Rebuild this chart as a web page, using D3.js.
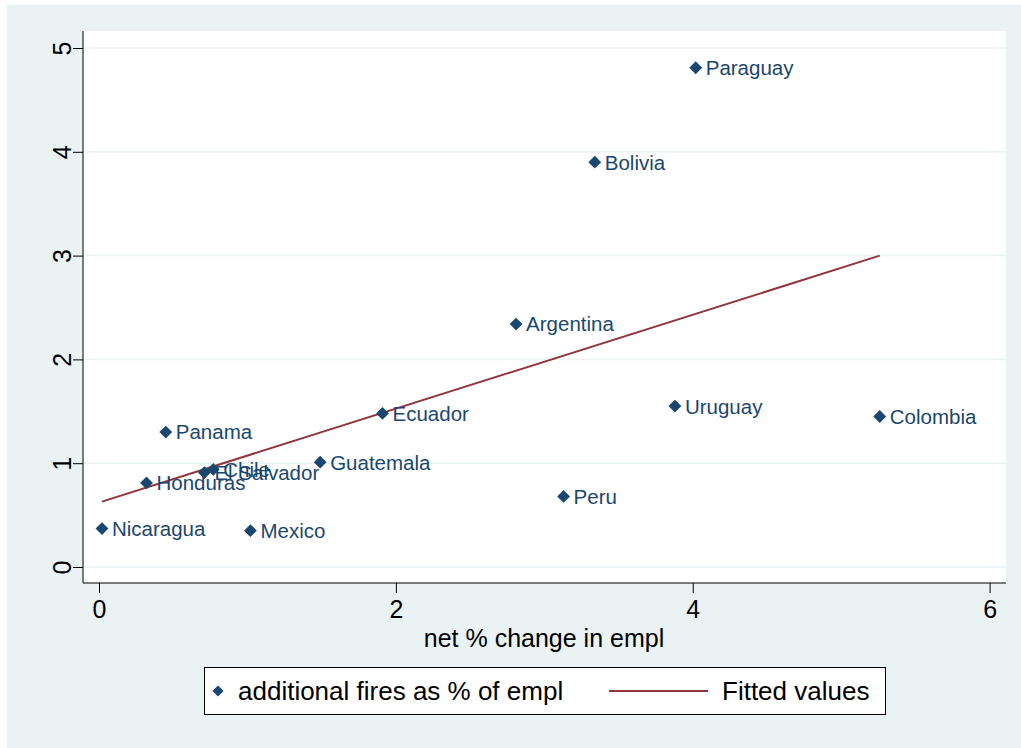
<!DOCTYPE html>
<html>
<head>
<meta charset="utf-8">
<script src="https://cdn.jsdelivr.net/npm/d3@7"></script>
<style>
  body { margin: 0; background: #fff; }
  text { font-family: "Liberation Sans", Arial, sans-serif; }
</style>
</head>
<body>
<svg width="1021" height="748"></svg>
<script>
// values
const countries = ["Paraguay", "Bolivia", "Argentina", "Ecuador", "Uruguay", "Colombia", "Panama",
  "Guatemala", "Chile", "El Salvador", "Honduras", "Nicaragua", "Mexico", "Peru"];
const emplChange = [4.02, 3.34, 2.81, 1.91, 3.88, 5.26, 0.45, 1.49, 0.77, 0.71, 0.32, 0.02, 1.02, 3.13];
const extraFires = [4.81, 3.90, 2.34, 1.48, 1.55, 1.45, 1.30, 1.01, 0.94, 0.91, 0.81, 0.37, 0.35, 0.68];
const fitX = [0.02, 5.26];
const fitY = [0.63, 3.0];
const xTicks = [0, 2, 4, 6];
const yTicks = [0, 1, 2, 3, 4, 5];

const svg = d3.select("svg"),
    navy = "#1a476f",
    maroon = "#90353b";

svg.append("rect").attr("x", 7).attr("y", 5).attr("width", 1014).attr("height", 743).attr("fill", "#eaf2f3");
svg.append("rect").attr("x", 83).attr("y", 31).attr("width", 923).attr("height", 552).attr("fill", "#fff");

const x = d3.scaleLinear().domain([0, 6]).range([99, 989.6]),
    y = d3.scaleLinear().domain([0, 5]).range([567, 48]);

// grid
svg.append("g").selectAll("line").data(yTicks).enter().append("line")
    .attr("x1", 83).attr("x2", 1006)
    .attr("y1", d => y(d)).attr("y2", d => y(d))
    .attr("stroke", "#eaf2f3").attr("stroke-width", 1.5);

var gx = svg.append("g")
    .attr("transform", "translate(0,583)")
    .call(d3.axisBottom(x).tickValues(xTicks).tickSize(10).tickPadding(7).tickFormat(d3.format("d")));
gx.select(".domain").remove();
gx.selectAll("text").attr("font-size", 25).attr("fill", "#000").attr("font-family", "Liberation Sans, Arial, sans-serif");

var gy = svg.append("g")
    .attr("transform", "translate(83,0)")
    .call(d3.axisLeft(y).tickValues(yTicks).tickSize(10).tickPadding(0).tickFormat(d3.format("d")));
gy.select(".domain").remove();
gy.selectAll("text")
    .attr("font-size", 25).attr("fill", "#000").attr("font-family", "Liberation Sans, Arial, sans-serif")
    .attr("text-anchor", "middle").attr("dy", "0.35em").attr("x", null)
    .attr("transform", "translate(-21,0) rotate(-90)");

// axis lines
svg.append("line").attr("x1", 83).attr("x2", 83).attr("y1", 31).attr("y2", 583).attr("stroke", "#000");
svg.append("line").attr("x1", 83).attr("x2", 1006).attr("y1", 583).attr("y2", 583).attr("stroke", "#000");

svg.append("text").attr("x", 544).attr("y", 647).attr("text-anchor", "middle")
    .attr("font-size", 25).text("net % change in empl");

// fitted line
svg.append("path")
    .datum(d3.zip(fitX, fitY))
    .attr("d", d3.line().x(d => x(d[0])).y(d => y(d[1])))
    .attr("stroke", maroon).attr("stroke-width", 2).attr("fill", "none");

// points
const diamond = d3.symbol().type(d3.symbolDiamond2).size(105);
const pts = svg.append("g").selectAll("g").data(countries).enter().append("g")
    .attr("transform", (d, i) => "translate(" + x(emplChange[i]) + "," + y(extraFires[i]) + ")");
pts.append("path").attr("d", diamond).attr("fill", navy);
pts.append("text").attr("x", 10).attr("dy", "0.36em")
    .attr("font-size", 20.5).attr("fill", navy).text(d => d);

// legend
const lg = svg.append("g");
lg.append("rect").attr("x", 204.5).attr("y", 667.5).attr("width", 681).attr("height", 47)
    .attr("fill", "#fff").attr("stroke", "#000");
lg.append("path").attr("d", d3.symbol().type(d3.symbolDiamond2).size(80)).attr("fill", navy).attr("transform", "translate(218,691)");
lg.append("text").attr("x", 238).attr("y", 691).attr("dy", "0.36em").attr("font-size", 26).text("additional fires as % of empl");
lg.append("line").attr("x1", 609).attr("x2", 708).attr("y1", 691).attr("y2", 691).attr("stroke", maroon).attr("stroke-width", 2);
lg.append("text").attr("x", 722).attr("y", 691).attr("dy", "0.36em").attr("font-size", 26).text("Fitted values");
</script>
</body>
</html>
